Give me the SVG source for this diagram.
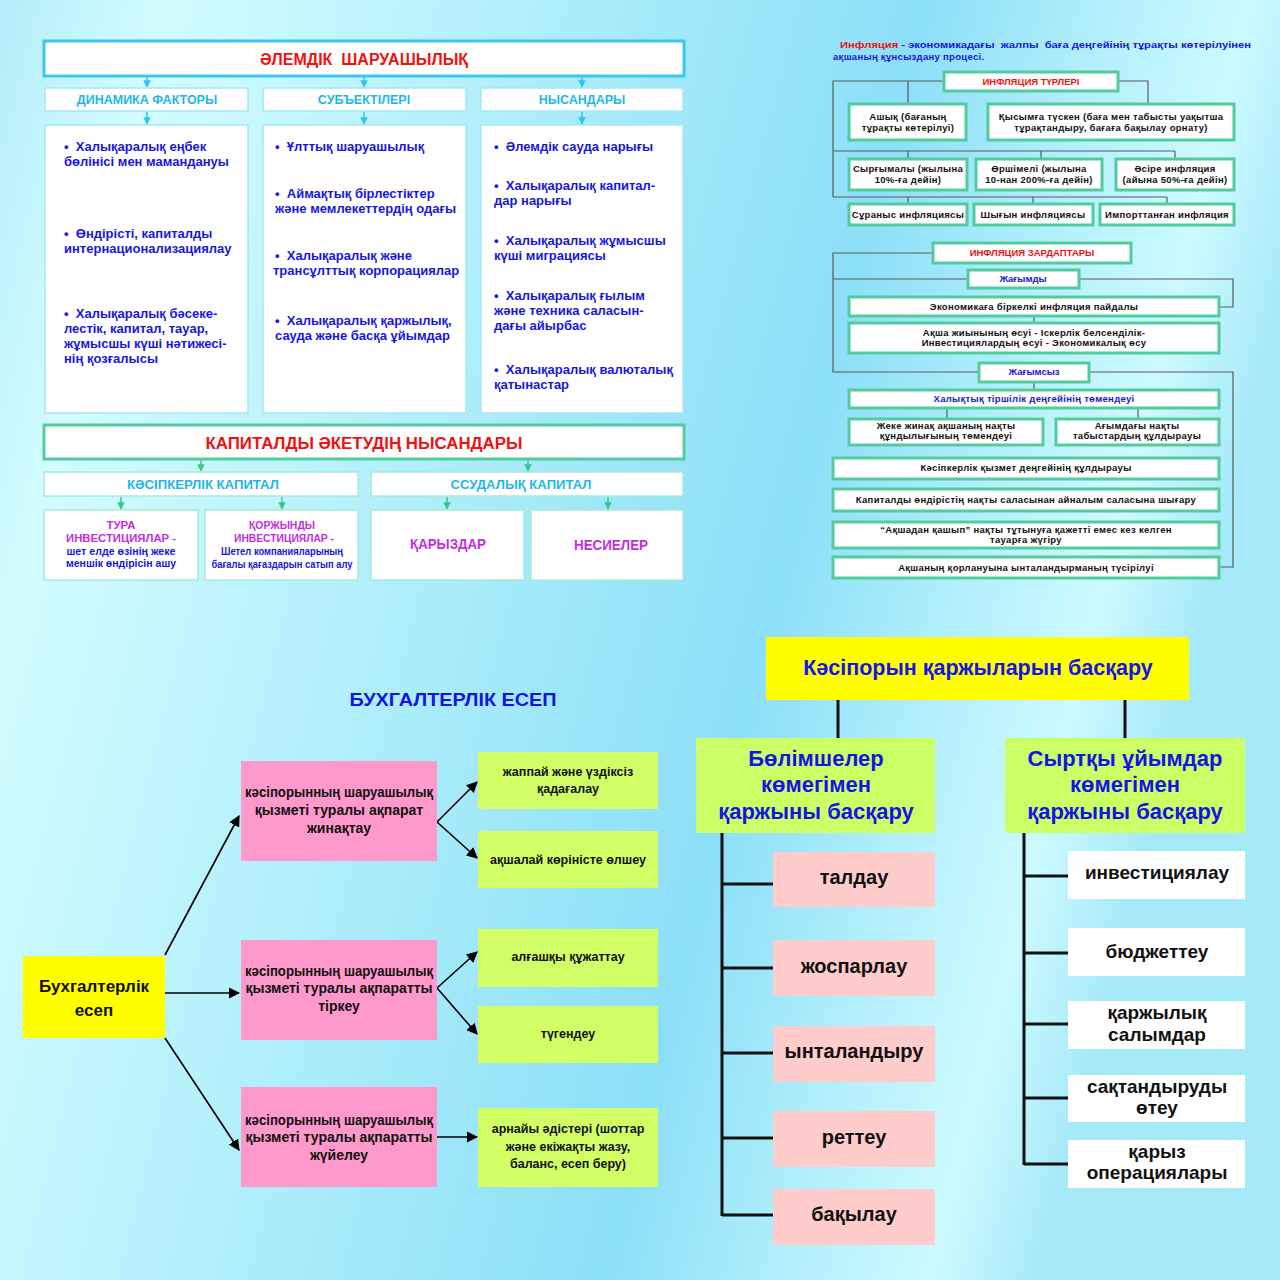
<svg xmlns="http://www.w3.org/2000/svg" width="1280" height="1280" viewBox="0 0 1280 1280">
<defs>
<linearGradient id="bg" x1="0" y1="0" x2="1" y2="0.25">
<stop offset="0" stop-color="#b4eef9"/>
<stop offset="0.12" stop-color="#d2fcff"/>
<stop offset="0.35" stop-color="#b6f1fc"/>
<stop offset="0.55" stop-color="#9ce6f9"/>
<stop offset="0.68" stop-color="#8cdff8"/>
<stop offset="0.82" stop-color="#b4f0fc"/>
<stop offset="0.92" stop-color="#ccfaff"/>
<stop offset="1" stop-color="#a6e9f8"/>
</linearGradient>
<marker id="ac" viewBox="0 0 10 10" refX="9" refY="5" markerWidth="5" markerHeight="5" orient="auto"><path d="M0,0 L10,5 L0,10 z" fill="#2ec4ee"/></marker>
<marker id="ag" viewBox="0 0 10 10" refX="9" refY="5" markerWidth="5" markerHeight="5" orient="auto"><path d="M0,0 L10,5 L0,10 z" fill="#3cc48e"/></marker>
<marker id="ab" viewBox="0 0 10 10" refX="9" refY="5" markerWidth="7" markerHeight="7" orient="auto"><path d="M0,0 L10,5 L0,10 z" fill="#000"/></marker>
<style>
text{font-family:"Liberation Sans",Arial,sans-serif;font-weight:bold}
.c{text-anchor:middle}
.hb{fill:#fff;stroke:#3cc6f0;stroke-width:3}
.lb{fill:#fff;stroke:#a6e6f6;stroke-width:1.5}
.gb{fill:#fff;stroke:#52cc9c;stroke-width:3}
.gl{fill:#fff;stroke:#a8ead8;stroke-width:1.5}
.ib{fill:#fff;stroke:#52cc9c;stroke-width:3}
.red{fill:#ee1111}
.cy{fill:#22b6e8}
.bl{fill:#1616e0}
.pu{fill:#c030e0}
.t125{font-size:13px}
.it{font-size:9.5px;letter-spacing:0.3px;fill:#111}
.pink{fill:#ff99cc}
.lime{fill:#d2ff66}
.lime2{fill:#ccff66}
.pk2{fill:#ffcccc}
.wt{fill:#ffffff}
.cTL{stroke:#2ec4ee;stroke-width:1.5;fill:none;marker-end:url(#ac)}
.cG{stroke:#3cc48e;stroke-width:1.5;fill:none;marker-end:url(#ag)}
.cI{stroke:#5a5a5a;stroke-width:1.2;fill:none}
.cB{stroke:#000;stroke-width:1.6;fill:none;marker-end:url(#ab)}
.cK{stroke:#111;stroke-width:3;fill:none}
</style>
</defs>
<rect x="0" y="0" width="1280" height="1280" fill="url(#bg)"/>

<g id="connectors">
<line class="cTL" x1="147" y1="77" x2="147" y2="87"/>
<line class="cTL" x1="364" y1="77" x2="364" y2="87"/>
<line class="cTL" x1="582" y1="77" x2="582" y2="87"/>
<line class="cTL" x1="147" y1="111" x2="147" y2="124"/>
<line class="cTL" x1="364" y1="111" x2="364" y2="124"/>
<line class="cTL" x1="582" y1="111" x2="582" y2="124"/>
<line class="cG" x1="201" y1="460" x2="201" y2="471"/>
<line class="cG" x1="528" y1="460" x2="528" y2="471"/>
<line class="cG" x1="121" y1="497" x2="121" y2="509"/>
<line class="cG" x1="282" y1="497" x2="282" y2="509"/>
<line class="cG" x1="447" y1="497" x2="447" y2="509"/>
<line class="cG" x1="608" y1="497" x2="608" y2="509"/>
<path class="cI" d="M943,81 H833 V197 M908,81 V104 M1118,81 H1148 V104 M833,151 H1175 M908,151 V158 M1041,151 V158 M1175,151 V158 M833,197 H1167 M908,197 V204 M1033,197 V204 M1167,197 V204"/>
<path class="cI" d="M932,253 H833 V372 H978 M833,279 H967 M1080,279 H1233 V307 H1220 M1034,316 V323 M1090,372 H1233 V567 H1220 M1034,382 V389 M947,408 V418 M1138,408 V418"/>
<line class="cB" x1="165" y1="955" x2="239" y2="816"/>
<line class="cB" x1="165" y1="993" x2="239" y2="993"/>
<line class="cB" x1="165" y1="1038" x2="239" y2="1150"/>
<line class="cB" x1="437" y1="822" x2="477" y2="782"/>
<line class="cB" x1="437" y1="822" x2="477" y2="858"/>
<line class="cB" x1="437" y1="988" x2="477" y2="952"/>
<line class="cB" x1="437" y1="988" x2="477" y2="1034"/>
<line class="cB" x1="437" y1="1137" x2="477" y2="1137"/>
<path class="cK" d="M838,700 V738 M1125,700 V738 M722,833 V1216 M722,884 H773 M722,968 H773 M722,1053 H773 M722,1138 H773 M722,1215 H773 M1024,833 V1165 M1024,876 H1068 M1024,953 H1068 M1024,1024 H1068 M1024,1098 H1068 M1024,1164 H1068"/>
</g>

<!-- Top-left: world economy -->
<g id="n-world"><rect class="hb" x="44" y="41" width="640" height="35"/><text class="c red" x="364" y="65" font-size="16" xml:space="preserve">ӘЛЕМДІК  ШАРУАШЫЛЫҚ</text></g>
<g id="n-dyn-h"><rect class="lb" x="45" y="88" width="203" height="23"/><text class="c cy" x="147" y="104" font-size="12.5">ДИНАМИКА ФАКТОРЫ</text></g>
<g id="n-sub-h"><rect class="lb" x="263" y="88" width="203" height="23"/><text class="c cy" x="364" y="104" font-size="12.5">СУБЪЕКТІЛЕРІ</text></g>
<g id="n-nys-h"><rect class="lb" x="481" y="88" width="202" height="23"/><text class="c cy" x="582" y="104" font-size="12.5">НЫСАНДАРЫ</text></g>
<g id="n-dyn"><rect class="lb" x="45" y="125" width="203" height="288"/>
<text class="bl t125" x="64" y="151" xml:space="preserve">•  Халықаралық еңбек</text>
<text class="bl t125" x="64" y="166">бөлінісі мен мамандануы</text>
<text class="bl t125" x="64" y="238" xml:space="preserve">•  Өндірісті, капиталды</text>
<text class="bl t125" x="64" y="253">интернационализациялау</text>
<text class="bl t125" x="64" y="318" xml:space="preserve">•  Халықаралық бәсеке-</text>
<text class="bl t125" x="64" y="333">лестік, капитал, тауар,</text>
<text class="bl t125" x="64" y="348">жұмысшы күші нәтижесі-</text>
<text class="bl t125" x="64" y="363">нің қозғалысы</text></g>
<g id="n-sub"><rect class="lb" x="263" y="125" width="203" height="288"/>
<text class="bl t125" x="275" y="151" xml:space="preserve">•  Ұлттық шаруашылық</text>
<text class="bl t125" x="275" y="198" xml:space="preserve">•  Аймақтық бірлестіктер</text>
<text class="bl t125" x="275" y="213">және мемлекеттердің одағы</text>
<text class="bl t125" x="275" y="260" xml:space="preserve">•  Халықаралық және</text>
<text class="bl t125" x="273" y="275">трансұлттық корпорациялар</text>
<text class="bl t125" x="275" y="325" xml:space="preserve">•  Халықаралық қаржылық,</text>
<text class="bl t125" x="275" y="340">сауда және басқа ұйымдар</text></g>
<g id="n-nys"><rect class="lb" x="481" y="125" width="202" height="288"/>
<text class="bl t125" x="494" y="151" xml:space="preserve">•  Әлемдік сауда нарығы</text>
<text class="bl t125" x="494" y="190" xml:space="preserve">•  Халықаралық капитал-</text>
<text class="bl t125" x="494" y="205">дар нарығы</text>
<text class="bl t125" x="494" y="245" xml:space="preserve">•  Халықаралық жұмысшы</text>
<text class="bl t125" x="494" y="260">күші миграциясы</text>
<text class="bl t125" x="494" y="300" xml:space="preserve">•  Халықаралық ғылым</text>
<text class="bl t125" x="494" y="315">және техника саласын-</text>
<text class="bl t125" x="494" y="330">дағы айырбас</text>
<text class="bl t125" x="494" y="374" xml:space="preserve">•  Халықаралық валюталық</text>
<text class="bl t125" x="494" y="389">қатынастар</text></g>

<!-- Capital export -->
<g id="n-cap"><rect class="gb" x="44" y="425" width="640" height="34"/><text class="c red" x="364" y="449" font-size="16" textLength="317" lengthAdjust="spacingAndGlyphs">КАПИТАЛДЫ ӘКЕТУДІҢ НЫСАНДАРЫ</text></g>
<g id="n-kas"><rect class="gl" x="44" y="472" width="314" height="24"/><text class="c cy" x="203" y="489" font-size="13" textLength="152" lengthAdjust="spacingAndGlyphs">КӘСІПКЕРЛІК КАПИТАЛ</text></g>
<g id="n-ssu"><rect class="gl" x="371" y="472" width="312" height="24"/><text class="c cy" x="521" y="489" font-size="13" textLength="141" lengthAdjust="spacingAndGlyphs">ССУДАЛЫҚ КАПИТАЛ</text></g>
<g id="n-tura"><rect class="gl" x="44" y="510" width="154" height="70"/>
<text class="c pu" x="121" y="529" font-size="11" textLength="29" lengthAdjust="spacingAndGlyphs">ТУРА</text>
<text class="c pu" x="121" y="542" font-size="11" textLength="110" lengthAdjust="spacingAndGlyphs">ИНВЕСТИЦИЯЛАР -</text>
<text class="c bl" x="121" y="555" font-size="11" textLength="109" lengthAdjust="spacingAndGlyphs">шет елде өзінің жеке</text>
<text class="c bl" x="121" y="567" font-size="11" textLength="110" lengthAdjust="spacingAndGlyphs">меншік өндірісін ашу</text></g>
<g id="n-korzh"><rect class="gl" x="205" y="510" width="153" height="70"/>
<text class="c pu" x="282" y="529" font-size="11" textLength="66" lengthAdjust="spacingAndGlyphs">ҚОРЖЫНДЫ</text>
<text class="c pu" x="284" y="542" font-size="11" textLength="100" lengthAdjust="spacingAndGlyphs">ИНВЕСТИЦИЯЛАР -</text>
<text class="c bl" x="282" y="555" font-size="11" textLength="122" lengthAdjust="spacingAndGlyphs">Шетел компанияларының</text>
<text class="c bl" x="282" y="568" font-size="11" textLength="141" lengthAdjust="spacingAndGlyphs">бағалы қағаздарын сатып алу</text></g>
<g id="n-qaryz"><rect class="gl" x="371" y="510" width="153" height="70"/><text class="c pu" x="448" y="549" font-size="14" textLength="76" lengthAdjust="spacingAndGlyphs">ҚАРЫЗДАР</text></g>
<g id="n-nesie"><rect class="gl" x="531" y="510" width="152" height="70"/><text class="c pu" x="611" y="550" font-size="14" textLength="74" lengthAdjust="spacingAndGlyphs">НЕСИЕЛЕР</text></g>

<!-- Inflation -->
<g id="n-infl-def">
<text x="840" y="48" font-size="9.5" textLength="411" lengthAdjust="spacingAndGlyphs" xml:space="preserve"><tspan class="red">Инфляция</tspan><tspan class="bl"> - экономикадағы  жалпы  баға деңгейінің тұрақты көтерілуінен</tspan></text>
<text class="bl" x="833" y="60" font-size="9.5" letter-spacing="0.3">ақшаның құнсыздану процесі.</text></g>
<g id="n-turleri"><rect class="ib" x="944" y="72" width="174" height="19"/><text class="c red" x="1031" y="85" font-size="9.5">ИНФЛЯЦИЯ ТҮРЛЕРІ</text></g>
<g id="n-ashyq"><rect class="ib" x="849" y="104" width="117" height="36"/><text class="c it" x="908" y="120">Ашық (бағаның</text><text class="c it" x="908" y="131">тұрақты көтерілуі)</text></g>
<g id="n-qysym"><rect class="ib" x="988" y="104" width="246" height="36"/><text class="c it" x="1111" y="120">Қысымға түскен (баға мен табысты уақытша</text><text class="c it" x="1111" y="131">тұрақтандыру, бағаға бақылау орнату)</text></g>
<g id="n-syrg"><rect class="ib" x="849" y="159" width="118" height="31"/><text class="c it" x="908" y="172">Сырғымалы (жылына</text><text class="c it" x="908" y="183">10%-ға дейін)</text></g>
<g id="n-orsh"><rect class="ib" x="976" y="159" width="126" height="31"/><text class="c it" x="1039" y="172">Өршімелі (жылына</text><text class="c it" x="1039" y="183">10-нан 200%-ға дейін)</text></g>
<g id="n-asire"><rect class="ib" x="1116" y="159" width="118" height="31"/><text class="c it" x="1175" y="172">Әсіре инфляция</text><text class="c it" x="1175" y="183">(айына 50%-ға дейін)</text></g>
<g id="n-suran"><rect class="ib" x="849" y="204" width="118" height="21"/><text class="c it" x="908" y="218">Сұраныс инфляциясы</text></g>
<g id="n-shygyn"><rect class="ib" x="974" y="204" width="119" height="21"/><text class="c it" x="1033" y="218">Шығын инфляциясы</text></g>
<g id="n-import"><rect class="ib" x="1100" y="204" width="134" height="21"/><text class="c it" x="1167" y="218">Импорттанған инфляция</text></g>

<g id="n-zardap"><rect class="ib" x="933" y="243" width="198" height="20"/><text class="c red" x="1032" y="256" font-size="9.5">ИНФЛЯЦИЯ ЗАРДАПТАРЫ</text></g>
<g id="n-jagymdy"><rect class="ib" x="968" y="270" width="111" height="18"/><text class="c bl" x="1023" y="282" font-size="9.5">Жағымды</text></g>
<g id="n-ekon"><rect class="ib" x="849" y="297" width="370" height="19"/><text class="c it" x="1034" y="310">Экономикаға біркелкі инфляция пайдалы</text></g>
<g id="n-aqsha"><rect class="ib" x="849" y="323" width="370" height="30"/><text class="c it" x="1034" y="336">Ақша жиынының өсуі - Іскерлік белсенділік-</text><text class="c it" x="1034" y="346">Инвестициялардың өсуі - Экономикалық өсу</text></g>
<g id="n-jagymsyz"><rect class="ib" x="979" y="363" width="110" height="19"/><text class="c bl" x="1034" y="375" font-size="9.5">Жағымсыз</text></g>
<g id="n-halyq"><rect class="ib" x="849" y="390" width="370" height="18"/><text class="c it" x="1034" y="402" style="fill:#1616e0">Халықтық тіршілік деңгейінің төмендеуі</text></g>
<g id="n-jeke"><rect class="ib" x="849" y="419" width="194" height="26"/><text class="c it" x="946" y="429">Жеке жинақ ақшаның нақты</text><text class="c it" x="946" y="439">құндылығының төмендеуі</text></g>
<g id="n-agym"><rect class="ib" x="1056" y="419" width="163" height="26"/><text class="c it" x="1137" y="429">Ағымдағы нақты</text><text class="c it" x="1137" y="439">табыстардың құлдырауы</text></g>
<g id="n-kasip"><rect class="ib" x="833" y="458" width="386" height="21"/><text class="c it" x="1026" y="471">Кәсіпкерлік қызмет деңгейінің құлдырауы</text></g>
<g id="n-kapit"><rect class="ib" x="833" y="489" width="386" height="22"/><text class="c it" x="1026" y="503">Капиталды өндірістің нақты саласынан айналым саласына шығару</text></g>
<g id="n-qashyp"><rect class="ib" x="833" y="522" width="386" height="26"/><text class="c it" x="1026" y="533">“Ақшадан қашып” нақты тұтынуға қажетті емес кез келген</text><text class="c it" x="1026" y="543">тауарға жүгіру</text></g>
<g id="n-qorlan"><rect class="ib" x="833" y="557" width="386" height="21"/><text class="c it" x="1026" y="571">Ақшаның қорлануына ынталандырманың түсірілуі</text></g>

<!-- Accounting -->
<g id="n-buh-title"><text class="c" x="453" y="706" font-size="19" fill="#1414e6" textLength="207" lengthAdjust="spacingAndGlyphs">БУХГАЛТЕРЛІК ЕСЕП</text></g>
<g id="n-buh"><rect x="23" y="956" width="142" height="82" fill="#ffff00"/><text class="c" x="94" y="992" font-size="17" fill="#111">Бухгалтерлік</text><text class="c" x="94" y="1016" font-size="17" fill="#111">есеп</text></g>
<g id="n-p1"><rect class="pink" x="241" y="761" width="196" height="100"/>
<text class="c" x="339" y="797" font-size="14" fill="#111" textLength="188" lengthAdjust="spacingAndGlyphs">кәсіпорынның шаруашылық</text>
<text class="c" x="339" y="815" font-size="14" fill="#111">қызметі туралы ақпарат</text>
<text class="c" x="339" y="833" font-size="14" fill="#111">жинақтау</text></g>
<g id="n-p2"><rect class="pink" x="241" y="940" width="196" height="100"/>
<text class="c" x="339" y="976" font-size="14" fill="#111" textLength="188" lengthAdjust="spacingAndGlyphs">кәсіпорынның шаруашылық</text>
<text class="c" x="339" y="993" font-size="14" fill="#111">қызметі туралы ақпаратты</text>
<text class="c" x="339" y="1011" font-size="14" fill="#111">тіркеу</text></g>
<g id="n-p3"><rect class="pink" x="241" y="1087" width="196" height="100"/>
<text class="c" x="339" y="1125" font-size="14" fill="#111" textLength="188" lengthAdjust="spacingAndGlyphs">кәсіпорынның шаруашылық</text>
<text class="c" x="339" y="1142" font-size="14" fill="#111">қызметі туралы ақпаратты</text>
<text class="c" x="339" y="1160" font-size="14" fill="#111">жүйелеу</text></g>
<g id="n-g1"><rect class="lime" x="478" y="752" width="180" height="57"/><text class="c" x="568" y="776" font-size="12.5" fill="#111">жаппай және үздіксіз</text><text class="c" x="568" y="793" font-size="12.5" fill="#111">қадағалау</text></g>
<g id="n-g2"><rect class="lime" x="478" y="831" width="180" height="57"/><text class="c" x="568" y="864" font-size="12.5" fill="#111">ақшалай көріністе өлшеу</text></g>
<g id="n-g3"><rect class="lime" x="478" y="929" width="180" height="58"/><text class="c" x="568" y="961" font-size="12.5" fill="#111">алғашқы құжаттау</text></g>
<g id="n-g4"><rect class="lime" x="478" y="1006" width="180" height="57"/><text class="c" x="568" y="1038" font-size="12.5" fill="#111">түгендеу</text></g>
<g id="n-g5"><rect class="lime" x="478" y="1108" width="180" height="79"/><text class="c" x="568" y="1133" font-size="12.5" fill="#111">арнайы әдістері (шоттар</text><text class="c" x="568" y="1151" font-size="12.5" fill="#111">және екіжақты жазу,</text><text class="c" x="568" y="1168" font-size="12.5" fill="#111">баланс, есеп беру)</text></g>

<!-- Finance management -->
<g id="n-fin"><rect x="766" y="637" width="423" height="63" fill="#ffff00"/><text class="c" x="978" y="675" font-size="21.5" fill="#1414e6">Кәсіпорын қаржыларын басқару</text></g>
<g id="n-bolim"><rect class="lime2" x="696" y="738" width="239" height="95"/>
<text class="c" x="816" y="766" font-size="22" fill="#1414e6">Бөлімшелер</text>
<text class="c" x="816" y="792" font-size="22" fill="#1414e6">көмегімен</text>
<text class="c" x="816" y="819" font-size="22" fill="#1414e6">қаржыны басқару</text></g>
<g id="n-syrt"><rect class="lime2" x="1005" y="738" width="240" height="95"/>
<text class="c" x="1125" y="766" font-size="22" fill="#1414e6">Сыртқы ұйымдар</text>
<text class="c" x="1125" y="792" font-size="22" fill="#1414e6">көмегімен</text>
<text class="c" x="1125" y="819" font-size="22" fill="#1414e6">қаржыны басқару</text></g>
<g id="n-taldau"><rect class="pk2" x="773" y="852" width="162" height="55"/><text class="c" x="854" y="884" font-size="20" fill="#111">талдау</text></g>
<g id="n-josp"><rect class="pk2" x="773" y="940" width="162" height="56"/><text class="c" x="854" y="973" font-size="20" fill="#111">жоспарлау</text></g>
<g id="n-ynt"><rect class="pk2" x="773" y="1026" width="162" height="56"/><text class="c" x="854" y="1058" font-size="20" fill="#111">ынталандыру</text></g>
<g id="n-rett"><rect class="pk2" x="773" y="1111" width="162" height="56"/><text class="c" x="854" y="1144" font-size="20" fill="#111">реттеу</text></g>
<g id="n-baq"><rect class="pk2" x="773" y="1189" width="162" height="56"/><text class="c" x="854" y="1221" font-size="20" fill="#111">бақылау</text></g>
<g id="n-inv"><rect class="wt" x="1068" y="851" width="177" height="48"/><text class="c" x="1157" y="879" font-size="19" fill="#111">инвестициялау</text></g>
<g id="n-budj"><rect class="wt" x="1068" y="928" width="177" height="48"/><text class="c" x="1157" y="958" font-size="19" fill="#111">бюджеттеу</text></g>
<g id="n-salym"><rect class="wt" x="1068" y="1001" width="177" height="48"/><text class="c" x="1157" y="1019" font-size="19" fill="#111">қаржылық</text><text class="c" x="1157" y="1041" font-size="19" fill="#111">салымдар</text></g>
<g id="n-saqt"><rect class="wt" x="1068" y="1075" width="177" height="47"/><text class="c" x="1157" y="1093" font-size="19" fill="#111">сақтандыруды</text><text class="c" x="1157" y="1114" font-size="19" fill="#111">өтеу</text></g>
<g id="n-qar-op"><rect class="wt" x="1068" y="1140" width="177" height="48"/><text class="c" x="1157" y="1158" font-size="19" fill="#111">қарыз</text><text class="c" x="1157" y="1179" font-size="19" fill="#111">операциялары</text></g>
</svg>
